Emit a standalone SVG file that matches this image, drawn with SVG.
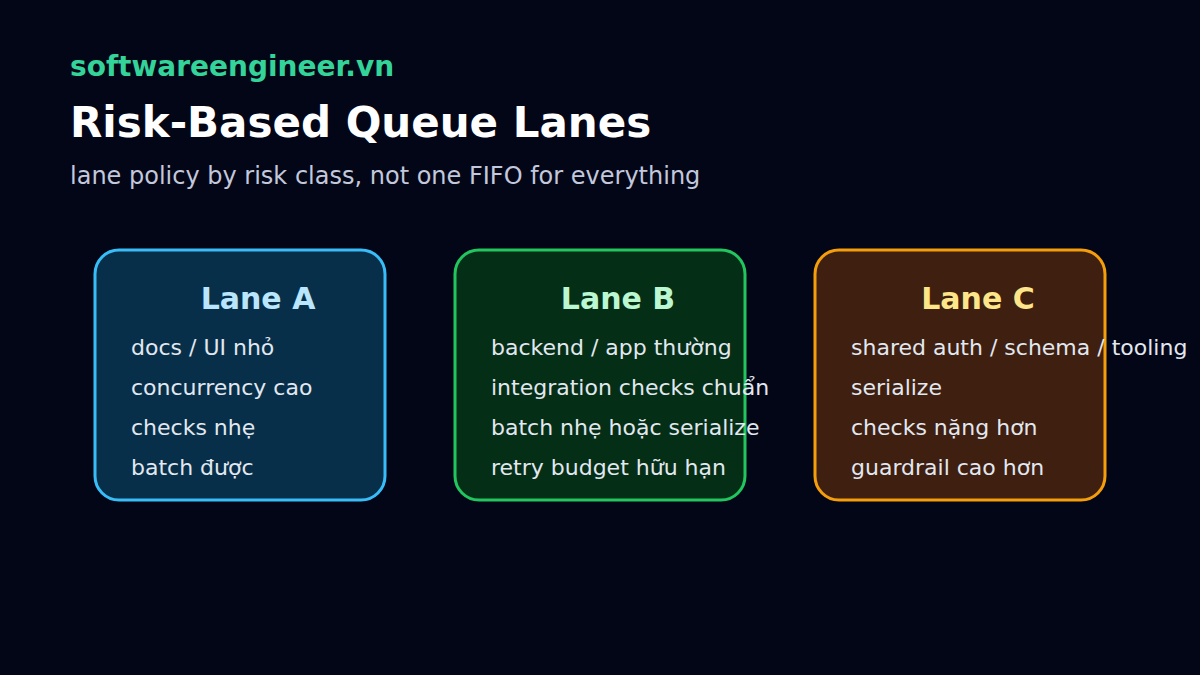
<svg xmlns="http://www.w3.org/2000/svg" width="1200" height="675" viewBox="0 0 1200 675">
<style>
.f{font-family:"DejaVu Sans","Noto Sans",sans-serif}
.brand{font-size:28px;font-weight:bold;fill:#34d399}
.title{font-size:42px;font-weight:bold;fill:#ffffff}
.sub{font-size:24px;fill:#c3c8dc}
.box{stroke-width:3}
.lt{font-size:30px;font-weight:bold;text-anchor:middle}
.it{font-size:22px;fill:#e2e8f0}
</style>
<rect width="1200" height="675" fill="#020617"/>
<g id="header">
<text class="f brand" x="70" y="76">softwareengineer.vn</text>
<text class="f title" x="70" y="137">Risk-Based Queue Lanes</text>
<text class="f sub" x="70" y="184">lane policy by risk class, not one FIFO for everything</text>
</g>
<g id="connectors"></g>
<g id="laneA">
<rect class="box" x="95" y="250" width="290" height="250" rx="24" fill="#082f49" stroke="#38bdf8"/>
<text class="f lt" x="258" y="309" fill="#bae6fd">Lane A</text>
<text class="f it" x="131" y="355">docs / UI nhỏ</text>
<text class="f it" x="131" y="395">concurrency cao</text>
<text class="f it" x="131" y="435">checks nhẹ</text>
<text class="f it" x="131" y="475">batch được</text>
</g>
<g id="laneB">
<rect class="box" x="455" y="250" width="290" height="250" rx="24" fill="#052e16" stroke="#22c55e"/>
<text class="f lt" x="618" y="309" fill="#bbf7d0">Lane B</text>
<text class="f it" x="491" y="355">backend / app thường</text>
<text class="f it" x="491" y="395">integration checks chuẩn</text>
<text class="f it" x="491" y="435">batch nhẹ hoặc serialize</text>
<text class="f it" x="491" y="475">retry budget hữu hạn</text>
</g>
<g id="laneC">
<rect class="box" x="815" y="250" width="290" height="250" rx="24" fill="#3f1f10" stroke="#f59e0b"/>
<text class="f lt" x="978" y="309" fill="#fde68a">Lane C</text>
<text class="f it" x="851" y="355">shared auth / schema / tooling</text>
<text class="f it" x="851" y="395">serialize</text>
<text class="f it" x="851" y="435">checks nặng hơn</text>
<text class="f it" x="851" y="475">guardrail cao hơn</text>
</g>
</svg>
